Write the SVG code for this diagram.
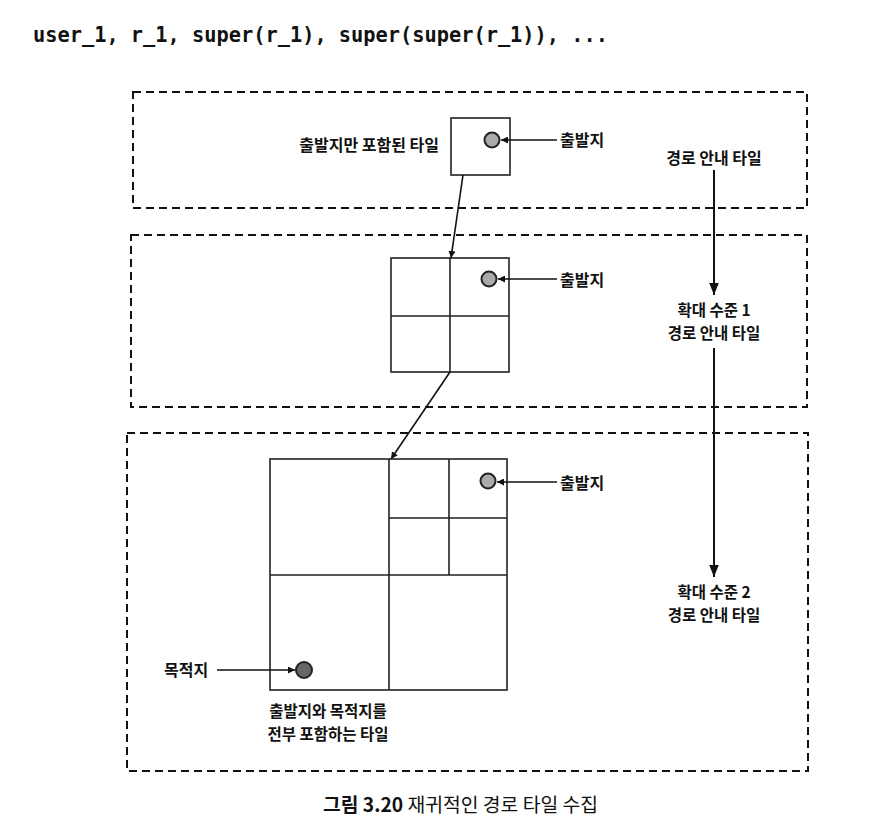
<svg xmlns="http://www.w3.org/2000/svg" width="870" height="834" viewBox="0 0 870 834">
<style>
.code{font-family:"DejaVu Sans Mono","Liberation Mono",monospace;font-size:21px;font-weight:bold;fill:#111}
.lbl{font-family:"Noto Sans CJK KR","Noto Sans",sans-serif;font-size:16px;font-weight:bold;fill:#111}
.lbl2{font-size:15.5px}
.cap{font-family:"Noto Sans CJK KR","Noto Sans",sans-serif;font-size:19.3px;fill:#111}
.zone{fill:none;stroke:#111;stroke-width:2;stroke-dasharray:8 5}
.tile{fill:#fff;stroke:#222;stroke-width:1.6}
.grid{stroke:#222;stroke-width:1.6;fill:none}
.pt{fill:#aaa;stroke:#222;stroke-width:2}
.dst{fill:#666;stroke:#222;stroke-width:2}
.con{stroke:#111;stroke-width:1.6;fill:none;marker-end:url(#ah)}
</style>
<defs>
<marker id="ah" viewBox="0 0 10 10" refX="10" refY="5" markerWidth="7" markerHeight="7" markerUnits="userSpaceOnUse" orient="auto">
<path d="M0,0 L10,5 L0,10 z" fill="#111"/>
</marker>
<marker id="ahb" viewBox="0 0 10 10" refX="10" refY="5" markerWidth="12" markerHeight="12" markerUnits="userSpaceOnUse" orient="auto">
<path d="M0,1 L10,5 L0,9 z" fill="#111"/>
</marker>
</defs>
<rect width="870" height="834" fill="#fff"/>
<text class="code" x="33" y="42" textLength="575" lengthAdjust="spacingAndGlyphs">user_1, r_1, super(r_1), super(super(r_1)), ...</text>

<g id="zone1"><rect class="zone" x="133" y="92" width="674" height="116"/></g>
<g id="zone2"><rect class="zone" x="131" y="235" width="676" height="172"/></g>
<g id="zone3"><rect class="zone" x="127" y="433" width="681" height="338"/></g>

<g id="tile1">
<rect class="tile" x="451" y="118" width="59" height="57"/>
<circle class="pt" cx="492" cy="140" r="7.5"/>
<text class="lbl" x="439" y="151" text-anchor="end">출발지만 포함된 타일</text>
</g>
<g id="tile2">
<rect class="tile" x="391" y="258" width="118" height="114"/>
<path class="grid" d="M450,258 V372 M391,316 H509"/>
<circle class="pt" cx="489" cy="279" r="7.5"/>
</g>
<g id="tile3">
<rect class="tile" x="270" y="459" width="237" height="231"/>
<path class="grid" d="M389,459 V690 M270,575 H507 M449,459 V575 M389,518 H507"/>
<circle class="pt" cx="488" cy="481" r="7.5"/>
<circle class="dst" cx="304" cy="670" r="8"/>
<text class="lbl lbl2" x="328" y="717" text-anchor="middle">출발지와 목적지를</text>
<text class="lbl lbl2" x="328" y="740" text-anchor="middle">전부 포함하는 타일</text>
</g>
<g id="labels">
<text class="lbl" x="560" y="146">출발지</text>
<text class="lbl" x="560" y="286">출발지</text>
<text class="lbl" x="560" y="489">출발지</text>
<text class="lbl" x="164" y="676">목적지</text>
<text class="lbl" x="714" y="164" text-anchor="middle">경로 안내 타일</text>
<text class="lbl lbl2" x="714" y="316" text-anchor="middle">확대 수준 1</text>
<text class="lbl lbl2" x="714" y="339" text-anchor="middle">경로 안내 타일</text>
<text class="lbl lbl2" x="714" y="598" text-anchor="middle">확대 수준 2</text>
<text class="lbl lbl2" x="714" y="621" text-anchor="middle">경로 안내 타일</text>
</g>
<g id="connectors">
<line class="con" x1="557" y1="140" x2="501" y2="140"/>
<line class="con" x1="557" y1="279" x2="498" y2="279"/>
<line class="con" x1="557" y1="482" x2="497" y2="482"/>
<line class="con" x1="217" y1="670" x2="295" y2="670"/>
<line class="con" x1="463" y1="175" x2="451" y2="258"/>
<line class="con" x1="450" y1="372" x2="391" y2="459"/>
<line x1="714" y1="170" x2="714" y2="295" stroke="#111" stroke-width="2" marker-end="url(#ahb)"/>
<line x1="714" y1="348" x2="714" y2="577" stroke="#111" stroke-width="2" marker-end="url(#ahb)"/>
</g>
<text class="cap" x="323" y="812"><tspan font-weight="bold">그림 3.20</tspan> 재귀적인 경로 타일 수집</text>
</svg>
